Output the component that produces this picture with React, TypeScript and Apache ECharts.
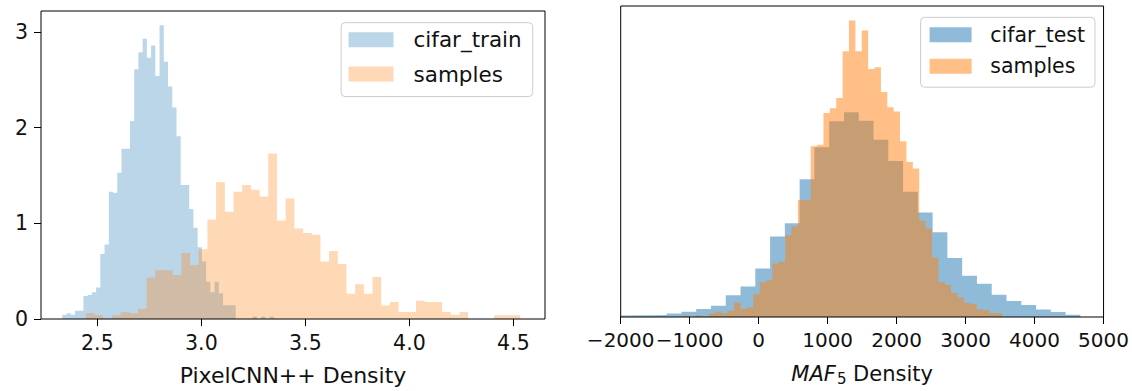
import React, { useEffect, useRef } from 'react';
import * as echarts from 'echarts';

// ---------- Left panel: PixelCNN++ density (density-normalised histograms, 50 bins each) ----------
const LEFT_TRAIN_START = 2.3312;
const LEFT_TRAIN_WIDTH = 0.02034;
const leftTrain = [
  0.045, 0.06, 0.045, 0.086, 0.086, 0.24, 0.25, 0.28, 0.33, 0.68,
  0.78, 1.33, 1.32, 1.53, 1.78, 1.78, 2.07, 2.61, 2.79, 2.93,
  2.73, 2.86, 2.54, 3.07, 2.69, 2.43, 2.21, 1.91, 1.4, 1.4,
  1.15, 0.955, 0.75, 0.6, 0.39, 0.28, 0.39, 0.27, 0.145, 0.145,
  0.145, 0, 0, 0, 0, 0.025, 0, 0.025, 0, 0.025,
];
const LEFT_SAMPLE_START = 2.4442;
const LEFT_SAMPLE_WIDTH = 0.04178;
const leftSamples = [
  0.06, 0.04, 0, 0.04, 0.07, 0.06, 0.107, 0.43, 0.51, 0.51,
  0.46, 0.69, 0.565, 0.73, 1.04, 1.43, 1.12, 1.33, 1.4, 1.35,
  1.28, 1.73, 1.03, 1.26, 0.945, 0.9, 0.88, 0.6, 0.71, 0.575,
  0.263, 0.363, 0.263, 0.44, 0.142, 0.177, 0.073, 0.073, 0.19, 0.177,
  0.177, 0.073, 0.045, 0.073, 0, 0, 0, 0.038, 0.038, 0.038,
];
const leftXTicks = [2.5, 3.0, 3.5, 4.0, 4.5];
const leftYTicks = [0, 1, 2, 3];

// ---------- Right panel: MAF5 density (values in units of 1e-4) ----------
const RIGHT_TEST_START = -2404.7;
const RIGHT_TEST_WIDTH = 214.2;
const rightTest = [
  0.034, 0.034, 0.038, 0.038, 0.045, 0.079, 0.117, 0.18, 0.252, 0.49,
  0.692, 1.097, 1.82, 2.123, 3.119, 3.842, 4.431, 4.633, 4.445, 4.011,
  3.532, 2.836, 2.364, 1.917, 1.337, 0.933, 0.753, 0.506, 0.36, 0.27,
  0.169, 0.112, 0.052,
];
const RIGHT_SAMPLE_START = -1095.2;
const RIGHT_SAMPLE_WIDTH = 92.5;
const rightSamples = [
  0.04, 0, 0.04, 0, 0.079, 0.117, 0.085, 0.139, 0.326, 0.184,
  0.22, 0.517, 0.786, 0.831, 1.213, 1.258, 1.854, 2.056, 2.647, 2.647,
  3.865, 3.901, 4.618, 4.723, 4.957, 6.017, 6.714, 6.017, 6.485, 5.613,
  5.651, 5.094, 4.746, 4.651, 3.977, 3.51, 3.359, 2.18, 1.995, 1.348,
  0.791, 0.73, 0.551, 0.449, 0.315, 0.292, 0.175, 0.157, 0.09, 0.09,
];
const rightXTicks = [-2000, -1000, 0, 1000, 2000, 3000, 4000, 5000];

const FONT = 'DejaVu Sans';
const TXT = '#111111';
const L_BLUE = 'rgba(31,119,180,0.3)';
const L_ORANGE = 'rgba(255,127,14,0.3)';
const R_BLUE = 'rgba(31,119,180,0.5)';
const R_ORANGE = 'rgba(255,127,14,0.5)';

function steps(start: number, width: number, heights: number[]) {
  const pts: number[][] = heights.map((h, i) => [start + i * width, h]);
  pts.push([start + heights.length * width, 0]);
  return pts;
}

function histSeries(name: string, data: number[][], color: string, axis: number) {
  return {
    type: 'line',
    name,
    step: 'end',
    data,
    xAxisIndex: axis,
    yAxisIndex: axis,
    symbol: 'none',
    showSymbol: false,
    silent: true,
    clip: true,
    lineStyle: { width: 0, opacity: 0 },
    itemStyle: { color },
    areaStyle: { color, opacity: 1 },
  };
}

const fmtMinus = (v: number) => (v < 0 ? '\u2212' + Math.abs(v) : String(v));

function buildOption() {
  const tickStyle = { color: '#000', width: 1 };
  const labelBase = { fontSize: 20.5, fontFamily: FONT, color: TXT, margin: 13, showMinLabel: true, showMaxLabel: true, hideOverlap: false };
  return {
    animation: false,
    grid: [
      { left: 41, top: 11, width: 504, height: 310, show: true, z: 10, backgroundColor: 'rgba(0,0,0,0)', borderColor: '#000', borderWidth: 1 },
      { left: 620.7, top: 6, width: 484.3, height: 313.5, show: true, z: 10, backgroundColor: 'rgba(0,0,0,0)', borderColor: '#000', borderWidth: 1 },
    ],
    xAxis: [
      {
        gridIndex: 0, type: 'value', min: 2.229, max: 4.652,
        axisLine: { show: false }, splitLine: { show: false },
        axisTick: { show: true, length: 7, customValues: leftXTicks, lineStyle: tickStyle },
        axisLabel: { ...labelBase, customValues: leftXTicks, formatter: (v: number) => v.toFixed(1) },
        name: 'PixelCNN++ Density', nameLocation: 'middle', nameGap: 45,
        nameTextStyle: { fontSize: 22, fontFamily: FONT, color: TXT },
      },
      {
        gridIndex: 1, type: 'value', min: -2000, max: 5000, interval: 1000,
        axisLine: { show: false }, splitLine: { show: false },
        axisTick: { show: true, length: 7, customValues: rightXTicks, lineStyle: tickStyle },
        axisLabel: { ...labelBase, fontSize: 20, customValues: rightXTicks, formatter: fmtMinus },
        name: '{it|MAF}{sub|5} Density', nameLocation: 'middle', nameGap: 45,
        nameTextStyle: {
          fontSize: 21, fontFamily: FONT, color: TXT,
          rich: {
            it: { fontStyle: 'italic', fontSize: 21, fontFamily: FONT, color: TXT },
            sub: { fontSize: 15, fontFamily: FONT, color: TXT, padding: [9, 0, 0, 1] },
          },
        },
      },
    ],
    yAxis: [
      {
        gridIndex: 0, type: 'value', min: 0, max: 3.22,
        axisLine: { show: false }, splitLine: { show: false },
        axisTick: { show: true, length: 7, customValues: leftYTicks, lineStyle: tickStyle },
        axisLabel: { ...labelBase, customValues: leftYTicks, formatter: (v: number) => String(v) },
      },
      {
        gridIndex: 1, type: 'value', min: 0, max: 7.04,
        axisLine: { show: false }, splitLine: { show: false },
        axisTick: { show: false }, axisLabel: { show: false },
      },
    ],
    legend: [
      {
        data: [
          { name: 'cifar_train', itemStyle: { color: L_BLUE } },
          { name: 'samples', itemStyle: { color: L_ORANGE } },
        ],
        orient: 'vertical', right: 599.3, top: 22.7,
        itemWidth: 45, itemHeight: 15, itemGap: 12.4, icon: 'rect',
        padding: [6, 11, 11.5, 7.4],
        backgroundColor: 'rgba(255,255,255,0.8)', borderColor: '#cccccc', borderWidth: 1, borderRadius: 4,
        selectedMode: false,
        textStyle: { fontSize: 21.5, fontFamily: FONT, color: TXT, lineHeight: 22, padding: [0, 0, 0, 15] },
      },
      {
        data: [
          { name: 'cifar_test', itemStyle: { color: R_BLUE } },
          { name: 'samples', itemStyle: { color: R_ORANGE } },
        ],
        orient: 'vertical', right: 37, top: 17.3,
        itemWidth: 42, itemHeight: 15, itemGap: 9.4, icon: 'rect',
        padding: [6.5, 10, 10, 9],
        backgroundColor: 'rgba(255,255,255,0.8)', borderColor: '#cccccc', borderWidth: 1, borderRadius: 4,
        selectedMode: false,
        textStyle: { fontSize: 20.5, fontFamily: FONT, color: TXT, lineHeight: 22, padding: [0, 0, 0, 13.6] },
      },
    ],
    series: [
      histSeries('cifar_train', steps(LEFT_TRAIN_START, LEFT_TRAIN_WIDTH, leftTrain), L_BLUE, 0),
      histSeries('samples', steps(LEFT_SAMPLE_START, LEFT_SAMPLE_WIDTH, leftSamples), L_ORANGE, 0),
      histSeries('cifar_test', steps(RIGHT_TEST_START, RIGHT_TEST_WIDTH, rightTest), R_BLUE, 1),
      histSeries('samples', steps(RIGHT_SAMPLE_START, RIGHT_SAMPLE_WIDTH, rightSamples), R_ORANGE, 1),
    ],
  };
}

export default function App() {
  const ref = useRef<HTMLDivElement>(null);
  useEffect(() => {
    document.body.style.margin = '0';
    const chart = echarts.init(ref.current as HTMLDivElement, null, { renderer: 'svg' });
    chart.setOption(buildOption() as any);
    return () => chart.dispose();
  }, []);
  return <div ref={ref} style={{ width: 1132, height: 391, background: '#fff' }} />;
}
